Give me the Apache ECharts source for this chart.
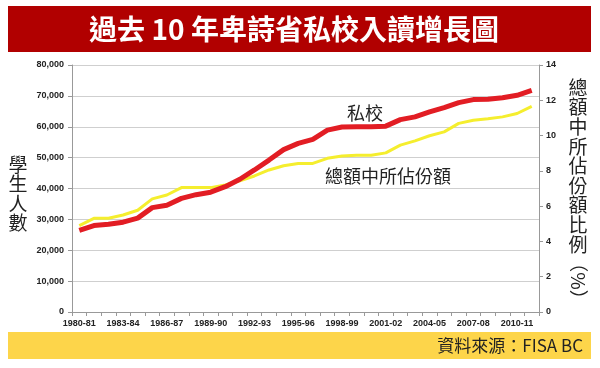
<!DOCTYPE html>
<html><head><meta charset="utf-8">
<script src="https://cdn.jsdelivr.net/npm/echarts@6/dist/echarts.min.js"></script>
<style>html,body{margin:0;padding:0;background:#fff}#c{width:600px;height:368px}</style>
</head><body><div id="c"></div>
<script>
const categories = ['1980-81','1981-82','1982-83','1983-84','1984-85','1985-86','1986-87','1987-88','1988-89','1989-90','1990-91','1991-92','1992-93','1993-94','1994-95','1995-96','1996-97','1997-98','1998-99','1999-00','2000-01','2001-02','2002-03','2003-04','2004-05','2005-06','2006-07','2007-08','2008-09','2009-10','2010-11','2011-12'];
const enrolment = [26400,28000,28400,29100,30400,33800,34600,36800,38000,38800,40600,43000,46000,49200,52600,54600,55900,58900,59900,60000,60000,60200,62300,63200,64800,66200,67800,68800,68900,69400,70200,71800];
const sharePct = [4.90,5.31,5.31,5.50,5.77,6.41,6.63,7.05,7.05,7.05,7.20,7.44,7.71,8.05,8.29,8.42,8.42,8.71,8.84,8.88,8.89,9.02,9.46,9.70,9.99,10.21,10.69,10.87,10.95,11.06,11.25,11.66];
const leftTicks = {min:0, max:80000, interval:10000};
const rightTicks = {min:0, max:14, interval:2};

const chart = echarts.init(document.getElementById('c'), null, {renderer:'canvas'});
const cjk = '"Noto Sans CJK TC","Noto Sans CJK SC",sans-serif';
const lab = {color:'#222', fontSize:9, fontWeight:'bold', fontFamily:'"Liberation Sans",Arial,sans-serif'};
chart.setOption({
  animation:false,
  grid:{left:72, right:61, top:65, bottom:56},
  xAxis:{type:'category', data:categories, boundaryGap:true,
    axisLine:{lineStyle:{color:'#999'}},
    axisTick:{show:true, interval:0, length:4, lineStyle:{color:'#999'}},
    axisLabel:Object.assign({interval:2, margin:7}, lab)},
  yAxis:[
    {type:'value', min:leftTicks.min, max:leftTicks.max, interval:leftTicks.interval,
     axisLine:{show:true, lineStyle:{color:'#999'}},
     axisTick:{show:true, length:4, lineStyle:{color:'#999'}},
     splitLine:{lineStyle:{color:'#cfcfcf'}},
     axisLabel:Object.assign({margin:8, formatter:v=>v.toLocaleString('en-US')}, lab)},
    {type:'value', min:rightTicks.min, max:rightTicks.max, interval:rightTicks.interval, position:'right',
     axisLine:{show:true, lineStyle:{color:'#999'}},
     axisTick:{show:true, length:4, lineStyle:{color:'#999'}},
     splitLine:{show:false},
     axisLabel:Object.assign({margin:7}, lab)}
  ],
  series:[
    {name:'總額中所佔份額', type:'line', yAxisIndex:1, data:sharePct, showSymbol:false, symbol:'none',
     lineStyle:{color:'#f5ee2e', width:3}, z:2},
    {name:'私校', type:'line', yAxisIndex:0, data:enrolment, showSymbol:false, symbol:'none',
     lineStyle:{color:'#e21d24', width:5}, z:3}
  ],
  graphic:[
    {type:'rect', shape:{x:8, y:6, width:583, height:46}, style:{fill:'#b10000'}, z:10},
    {type:'text', x:294, y:29, style:{text:'過去 10 年卑詩省私校入讀增長圖', fill:'#fff', font:'bold 28px '+cjk, align:'center', verticalAlign:'middle'}, z:11},
    {type:'rect', shape:{x:8, y:332, width:583, height:27}, style:{fill:'#fdd54a'}, z:10},
    {type:'text', x:583, y:346, style:{text:'資料來源：FISA BC', fill:'#222', font:'17px '+cjk, align:'right', verticalAlign:'middle'}, z:11},
    {type:'text', x:18, y:194, style:{text:'學\n生\n人\n數', fill:'#222', font:'19px '+cjk, lineHeight:19.5, align:'center', verticalAlign:'middle'}, z:11},
    {type:'text', x:578, y:166, style:{text:'總\n額\n中\n所\n佔\n份\n額\n比\n例', fill:'#222', font:'19px '+cjk, lineHeight:19.6, align:'center', verticalAlign:'middle'}, z:11},
    {type:'text', x:578, y:281, rotation:-Math.PI/2, style:{text:'（%）', fill:'#222', font:'19px '+cjk, align:'center', verticalAlign:'middle'}, z:11},
    {type:'text', x:365, y:113, style:{text:'私校', fill:'#222', font:'18px '+cjk, align:'center', verticalAlign:'middle'}, z:11},
    {type:'text', x:388, y:176, style:{text:'總額中所佔份額', fill:'#222', font:'18px '+cjk, align:'center', verticalAlign:'middle'}, z:11}
  ]
});
</script></body></html>
